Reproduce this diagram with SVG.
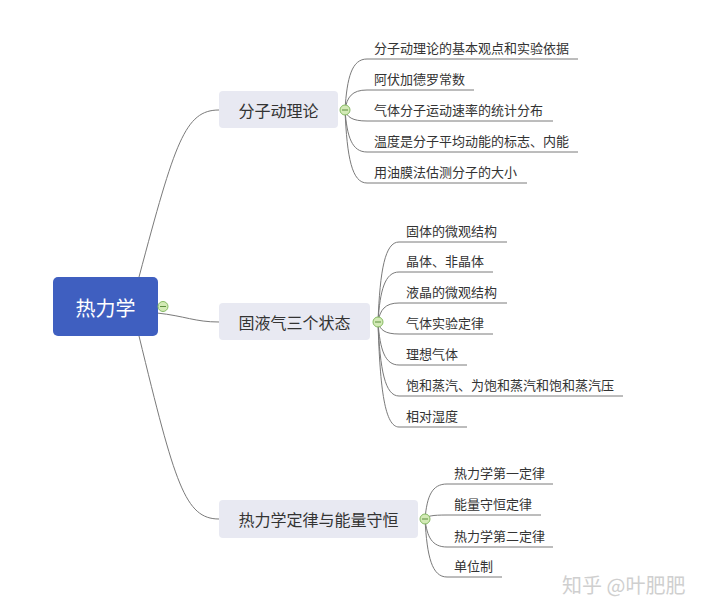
<svg xmlns="http://www.w3.org/2000/svg" width="708" height="614" viewBox="0 0 708 614">
<style>
text{font-family:"Noto Sans CJK SC","Noto Sans",sans-serif}
.conn path{fill:none;stroke:#7a7a7a;stroke-width:1}
.root rect{fill:#3f5fc0}
.root text{fill:#ffffff;font-size:20px;text-anchor:middle;dominant-baseline:central}
.br rect{fill:#e8e9f2}
.br text{fill:#333333;font-size:16px;text-anchor:middle;dominant-baseline:central}
.leaf text{fill:#333333;font-size:13px}
.tog circle{fill:#d3eab6;stroke:#86bb63;stroke-width:1}
.tog line{stroke:#5d8f3e;stroke-width:1}
.wm{fill:#cfcfcf;font-size:20px}
</style>
<rect width="708" height="614" fill="#ffffff"/>
<g id="connectors" class="conn">
<path d="M139,277 C175,142 185,110 219,110"/>
<path d="M157,313 C185,316 195,322 219,322"/>
<path d="M139,336 C175,484 185,519 219,519"/>
<path d="M345,110 C347,77 352,59 367,59 H578"/>
<path d="M345,110 C347,97 352,90 367,90 H474"/>
<path d="M345,110 C347,117 352,121 367,121 H553"/>
<path d="M345,110 C347,137 352,152 367,152 H578"/>
<path d="M345,110 C347,158 352,183 367,183 H527"/>
<path d="M378,322 C380,270 385,242 399,242 H507"/>
<path d="M378,322 C380,290 385,272 399,272 H493"/>
<path d="M378,322 C380,310 385,303 399,303 H507"/>
<path d="M378,322 C380,330 385,334 399,334 H493"/>
<path d="M378,322 C380,350 385,365 399,365 H467"/>
<path d="M378,322 C380,370 385,396 399,396 H623"/>
<path d="M378,322 C380,390 385,427 399,427 H467"/>
<path d="M425,519 C427,496 432,484 447,484 H553"/>
<path d="M425,519 C427,516 432,515 447,515 H541"/>
<path d="M425,519 C427,537 432,547 447,547 H553"/>
<path d="M425,519 C427,557 432,577 447,577 H502"/>
</g>
<g id="root" class="root">
<rect x="53" y="277" width="105" height="59" rx="5"/>
<text x="105.5" y="307">热力学</text>
<g class="tog"><circle cx="163" cy="306.5" r="5"/><line x1="160" y1="306.5" x2="166" y2="306.5"/></g>
</g>
<g id="b1" class="br">
<rect x="219" y="91" width="119" height="37" rx="4"/>
<text x="278.5" y="110">分子动理论</text>
<g class="tog"><circle cx="345" cy="110" r="5"/><line x1="342" y1="110" x2="348" y2="110"/></g>
</g>
<g id="b2" class="br">
<rect x="219" y="303" width="151" height="37" rx="4"/>
<text x="294.5" y="322">固液气三个状态</text>
<g class="tog"><circle cx="378" cy="322" r="5"/><line x1="375" y1="322" x2="381" y2="322"/></g>
</g>
<g id="b3" class="br">
<rect x="219" y="500" width="199" height="38" rx="4"/>
<text x="318.5" y="519">热力学定律与能量守恒</text>
<g class="tog"><circle cx="425" cy="519" r="5"/><line x1="422" y1="519" x2="428" y2="519"/></g>
</g>
<g id="c1_1" class="leaf"><text x="374" y="53">分子动理论的基本观点和实验依据</text></g>
<g id="c1_2" class="leaf"><text x="374" y="84">阿伏加德罗常数</text></g>
<g id="c1_3" class="leaf"><text x="374" y="115">气体分子运动速率的统计分布</text></g>
<g id="c1_4" class="leaf"><text x="374" y="146">温度是分子平均动能的标志、内能</text></g>
<g id="c1_5" class="leaf"><text x="374" y="177">用油膜法估测分子的大小</text></g>
<g id="c2_1" class="leaf"><text x="406" y="236">固体的微观结构</text></g>
<g id="c2_2" class="leaf"><text x="406" y="266">晶体、非晶体</text></g>
<g id="c2_3" class="leaf"><text x="406" y="297">液晶的微观结构</text></g>
<g id="c2_4" class="leaf"><text x="406" y="328">气体实验定律</text></g>
<g id="c2_5" class="leaf"><text x="406" y="359">理想气体</text></g>
<g id="c2_6" class="leaf"><text x="406" y="390">饱和蒸汽、为饱和蒸汽和饱和蒸汽压</text></g>
<g id="c2_7" class="leaf"><text x="406" y="421">相对湿度</text></g>
<g id="c3_1" class="leaf"><text x="454" y="478">热力学第一定律</text></g>
<g id="c3_2" class="leaf"><text x="454" y="509">能量守恒定律</text></g>
<g id="c3_3" class="leaf"><text x="454" y="541">热力学第二定律</text></g>
<g id="c3_4" class="leaf"><text x="454" y="571">单位制</text></g>
<text class="wm" x="562" y="593">知乎 @叶肥肥</text>
</svg>
